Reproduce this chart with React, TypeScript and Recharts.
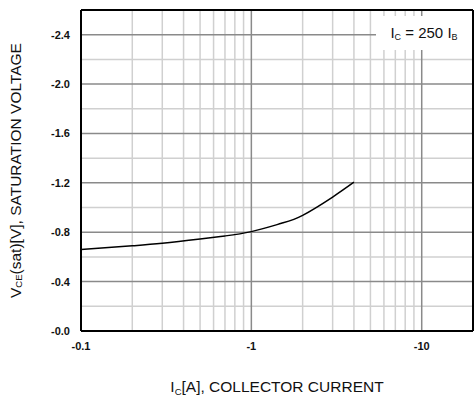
import { LineChart, Line, XAxis, YAxis, ReferenceLine } from 'recharts';

// Ic [A] (plotted as magnitude, labelled negative) vs VCE(sat) [V]
const currents = [0.1, 0.2, 0.3, 0.5, 0.7, 1, 1.5, 2, 3, 4];
const satVoltage = [0.66, 0.69, 0.71, 0.745, 0.77, 0.805, 0.872, 0.937, 1.085, 1.205];

const xTicks = [0.1, 1, 10];
const yTicks = [0, 0.4, 0.8, 1.2, 1.6, 2.0, 2.4];
const xMajorGrid = [1, 10];
const xMinorGrid = [0.2, 0.3, 0.4, 0.5, 0.6, 0.7, 0.8, 0.9, 2, 3, 4, 5, 6, 7, 8, 9];
const yMajorGrid = [0.4, 0.8, 1.2, 1.6, 2.0, 2.4];
const yMinorGrid = [0.2, 0.6, 1.0, 1.4, 1.8, 2.2];

const data = currents.map((c, i) => ({ ic: c, vce: satVoltage[i] }));

const FONT = '"Liberation Sans", Arial, sans-serif';

const YTitle = ({ viewBox }: any) => {
  const cx = 15;
  const cy = viewBox.y + viewBox.height / 2;
  return (
    <text
      x={cx}
      y={cy}
      transform={`rotate(-90 ${cx} ${cy})`}
      textAnchor="middle"
      dominantBaseline="central"
      fontSize={15.5}
      fontFamily={FONT}
      fill="#111"
    >
      V<tspan fontSize={9.5} dy={3}>CE</tspan>
      <tspan dy={-3}>(sat)[V], SATURATION VOLTAGE</tspan>
    </text>
  );
};

const XTitle = ({ viewBox }: any) => {
  const cx = viewBox.x + viewBox.width / 2;
  return (
    <text x={cx} y={392} textAnchor="middle" fontSize={15.5} fontFamily={FONT} fill="#111">
      I<tspan fontSize={9.5} dy={3}>C</tspan>
      <tspan dy={-3}>[A], COLLECTOR CURRENT</tspan>
    </text>
  );
};

export default function App() {
  return (
    <div style={{ position: 'absolute', left: 0, top: 0, width: 474, height: 403, background: '#fff' }}>
      <LineChart width={474} height={403} data={data} margin={{ top: 10, right: 1, bottom: 42, left: 0 }}>
        {xMinorGrid.map((v) => (
          <ReferenceLine key={`xm-${v}`} x={v} stroke="#d0d0d0" strokeWidth={1.5} />
        ))}
        {yMinorGrid.map((v) => (
          <ReferenceLine key={`ym-${v}`} y={v} stroke="#d0d0d0" strokeWidth={1.5} />
        ))}
        {xMajorGrid.map((v) => (
          <ReferenceLine key={`xM-${v}`} x={v} stroke="#8a8a8a" strokeWidth={1.5} />
        ))}
        {yMajorGrid.map((v) => (
          <ReferenceLine key={`yM-${v}`} y={v} stroke="#8a8a8a" strokeWidth={1.5} />
        ))}
        <ReferenceLine y={2.6} stroke="#000" strokeWidth={2} />
        <ReferenceLine x={20} stroke="#000" strokeWidth={2} />
        <XAxis
          dataKey="ic"
          type="number"
          scale="log"
          domain={[0.1, 20]}
          ticks={xTicks}
          allowDataOverflow
          tickLine={false}
          tickMargin={5}
          axisLine={{ stroke: '#000', strokeWidth: 2 }}
          tick={{ fill: '#111', fontSize: 11, fontWeight: 700, fontFamily: FONT }}
          tickFormatter={(v: number) => `-${v}`}
          label={<XTitle />}
        />
        <YAxis
          type="number"
          domain={[0, 2.6]}
          ticks={yTicks}
          allowDataOverflow
          width={81}
          tickLine={false}
          tickMargin={5}
          axisLine={{ stroke: '#000', strokeWidth: 2 }}
          tick={{ fill: '#111', fontSize: 11, fontWeight: 700, fontFamily: FONT }}
          tickFormatter={(v: number) => `-${v.toFixed(1)}`}
          label={<YTitle />}
        />
        <Line
          dataKey="vce"
          type="natural"
          stroke="#000"
          strokeWidth={1.5}
          dot={false}
          isAnimationActive={false}
        />
      </LineChart>
      <div
        style={{
          position: 'absolute',
          left: 376,
          top: 16,
          width: 96,
          height: 34,
          background: '#fff',
          fontFamily: FONT,
          fontSize: 15,
          color: '#111',
          lineHeight: '34px',
          textAlign: 'center',
        }}
      >
        I<sub style={{ fontSize: 9, verticalAlign: -2 }}>C</sub> = 250 I
        <sub style={{ fontSize: 9, verticalAlign: -2 }}>B</sub>
      </div>
    </div>
  );
}
